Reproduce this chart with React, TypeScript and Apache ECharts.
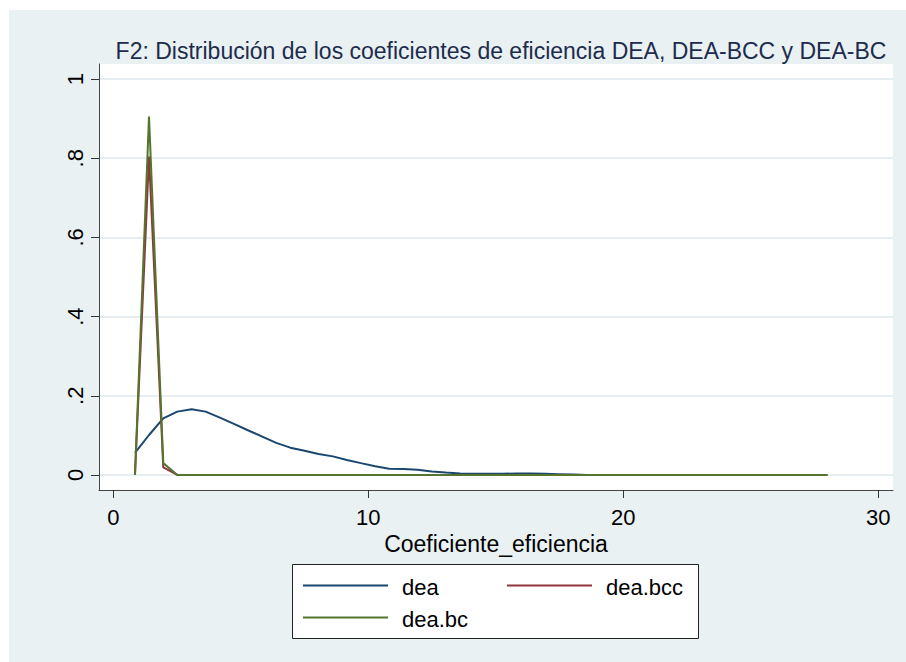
import React, { useEffect, useRef } from "react";
import * as echarts from "echarts";

const titleText = "F2: Distribución de los coeficientes de eficiencia DEA, DEA-BCC y DEA-BC";
const xAxisName = "Coeficiente_eficiencia";
const seriesNames = ["dea", "dea.bcc", "dea.bc"];
const seriesColors = ["#1a476f", "#90353b", "#55752f"];

const xTicks = [0, 10, 20, 30];
const yTicks = [0, 0.2, 0.4, 0.6, 0.8, 1];

const deaX = [
  0.85, 1.4, 1.96, 2.51, 3.07, 3.62, 4.18, 4.73, 5.28, 5.84, 6.39, 6.94, 7.5, 8.05, 8.61, 9.16, 9.71,
  10.27, 10.82, 11.38, 11.93, 12.49, 13.04, 13.6, 14.15, 14.7, 15.26, 15.81, 16.37, 16.92, 17.47,
  18.03, 18.58, 28.0,
];
const deaY = [
  0.056, 0.101, 0.143, 0.16, 0.166, 0.16, 0.145, 0.129, 0.113, 0.097, 0.081, 0.069, 0.061, 0.053,
  0.047, 0.038, 0.03, 0.022, 0.016, 0.015, 0.013, 0.009, 0.006, 0.004, 0.003, 0.003, 0.003, 0.004,
  0.004, 0.003, 0.002, 0.001, 0, 0,
];
const bccX = [0.85, 1.4, 1.96, 2.51, 28.0];
const bccY = [0, 0.804, 0.019, 0, 0];
const bcX = [0.85, 1.4, 1.96, 2.51, 28.0];
const bcY = [0, 0.905, 0.03, 0, 0];

const FONT = "'Liberation Sans', Arial, Helvetica, sans-serif";

function pairs(xs: number[], ys: number[]) {
  return xs.map((x, i) => [x, ys[i]]);
}

export default function App() {
  const ref = useRef<HTMLDivElement>(null);

  useEffect(() => {
    if (!ref.current) return;
    const chart = echarts.init(ref.current, undefined, { renderer: "svg" });

    const legendRows = [585.5, 617.5];
    const legendCols = [303, 507];
    const legendItems: any[] = [];
    seriesNames.forEach((name, i) => {
      const row = Math.floor(i / 2);
      const col = i % 2;
      const lx = legendCols[col];
      const ly = legendRows[row];
      legendItems.push({
        type: "line",
        shape: { x1: lx, y1: ly, x2: lx + 85, y2: ly },
        style: { stroke: seriesColors[i], lineWidth: 2 },
        z: 20,
      });
      legendItems.push({
        type: "text",
        x: lx + 99,
        y: ly + 2,
        style: {
          text: name,
          fill: "#000",
          font: `22px ${FONT}`,
          verticalAlign: "middle",
          align: "left",
        },
        z: 20,
      });
    });

    const option: any = {
      animation: false,
      backgroundColor: "#ffffff",
      title: {
        text: titleText,
        left: 496,
        top: 34,
        textAlign: "center",
        textStyle: {
          fontFamily: FONT,
          fontSize: 23,
          fontWeight: "normal",
          color: "#1d2c4c",
        },
      },
      graphic: [
        {
          type: "rect",
          shape: { x: 9, y: 10, width: 897, height: 652 },
          style: { fill: "#e9f1f3" },
          z: -10,
          silent: true,
        },
        {
          type: "rect",
          shape: { x: 292.5, y: 564.5, width: 406, height: 74 },
          style: { fill: "#ffffff", stroke: "#222222", lineWidth: 1 },
          z: 19,
        },
        ...legendItems,
      ],
      grid: {
        left: 99,
        right: 13,
        top: 64,
        bottom: 172,
        show: true,
        backgroundColor: "#ffffff",
        borderWidth: 0,
        containLabel: false,
      },
      xAxis: {
        type: "value",
        min: -0.561,
        max: 30.576,
        name: xAxisName,
        nameLocation: "middle",
        nameGap: 37,
        nameTextStyle: { fontFamily: FONT, fontSize: 23, color: "#000" },
        axisLine: { show: true, onZero: false, lineStyle: { color: "#444", width: 1 } },
        axisTick: {
          show: true,
          length: 8,
          customValues: xTicks,
          lineStyle: { color: "#333", width: 1 },
        },
        axisLabel: {
          customValues: xTicks,
          margin: 16,
          fontFamily: FONT,
          fontSize: 22,
          color: "#000",
          formatter: (v: number) => String(v),
        },
        splitLine: { show: false },
      },
      yAxis: {
        type: "value",
        min: -0.0379,
        max: 1.0379,
        axisLine: { show: true, onZero: false, lineStyle: { color: "#444", width: 1 } },
        axisTick: {
          show: true,
          length: 8,
          customValues: yTicks,
          lineStyle: { color: "#333", width: 1 },
        },
        axisLabel: {
          customValues: yTicks,
          rotate: 90,
          margin: 13,
          fontFamily: FONT,
          fontSize: 22,
          color: "#000",
          formatter: (v: number) => {
            if (Math.abs(v) < 1e-9) return "0";
            if (Math.abs(v - 1) < 1e-9) return "1";
            return String(Math.round(v * 10) / 10).replace(/^0\./, ".");
          },
        },
        splitLine: {
          show: true,
          lineStyle: { color: "#e6eef1", width: 2 },
        },
      },
      series: [
        {
          name: seriesNames[0],
          type: "line",
          data: pairs(deaX, deaY),
          showSymbol: false,
          lineStyle: { color: seriesColors[0], width: 2 },
          itemStyle: { color: seriesColors[0] },
          z: 3,
        },
        {
          name: seriesNames[1],
          type: "line",
          data: pairs(bccX, bccY),
          showSymbol: false,
          lineStyle: { color: seriesColors[1], width: 2 },
          itemStyle: { color: seriesColors[1] },
          z: 4,
        },
        {
          name: seriesNames[2],
          type: "line",
          data: pairs(bcX, bcY),
          showSymbol: false,
          lineStyle: { color: seriesColors[2], width: 2 },
          itemStyle: { color: seriesColors[2] },
          z: 5,
        },
      ],
    };

    chart.setOption(option);
    return () => {
      chart.dispose();
    };
  }, []);

  return (
    <div
      ref={ref}
      style={{ position: "fixed", left: 0, top: 0, width: 906, height: 662 }}
    />
  );
}
